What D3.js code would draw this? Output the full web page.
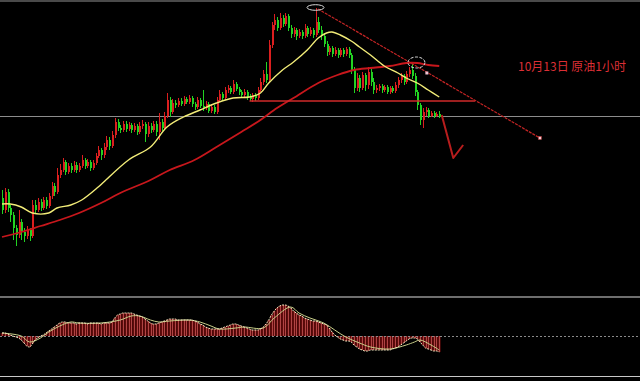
<!DOCTYPE html>
<html>
<head>
<meta charset="utf-8">
<script src="https://cdn.jsdelivr.net/npm/d3@7"></script>
<style>
  body { margin: 0; background: #000; }
  svg { display: block; }
</style>
</head>
<body>
<div id="chart"></div>
<script>
// crude oil, 1 hour candles
const opens = [
  50.02, 49.90, 50.08, 49.92, 49.85, 49.72, 49.65, 49.78, 49.68, 49.64,
  49.70, 49.64, 49.95, 49.90, 49.98, 49.92, 50.00, 49.94, 50.04, 50.14,
  50.08, 50.25, 50.30, 50.38, 50.28, 50.34, 50.30, 50.35, 50.30, 50.34,
  50.40, 50.34, 50.38, 50.32, 50.37, 50.44, 50.50, 50.45, 50.53, 50.60,
  50.54, 50.65, 50.78, 50.72, 50.70, 50.76, 50.71, 50.75, 50.70, 50.74,
  50.68, 50.74, 50.76, 50.66, 50.74, 50.70, 50.76, 50.68, 50.78, 50.72,
  50.84, 51.00, 50.88, 50.97, 50.95, 50.99, 50.96, 51.01, 50.98, 51.02,
  50.96, 50.93, 51.00, 50.94, 50.92, 50.96, 50.89, 50.93, 50.88, 51.00,
  51.06, 51.02, 51.10, 51.12, 51.08, 51.16, 51.11, 51.08, 51.05, 51.08,
  51.03, 51.01, 51.05, 51.02, 51.10, 51.18, 51.26, 51.20, 51.55, 51.75,
  51.80, 51.72, 51.82, 51.76, 51.84, 51.72, 51.66, 51.70, 51.64, 51.68,
  51.64, 51.72, 51.66, 51.70, 51.65, 51.78, 51.70, 51.64, 51.56, 51.48,
  51.52, 51.46, 51.50, 51.45, 51.50, 51.46, 51.51, 51.45, 51.30, 51.12,
  51.22, 51.12, 51.25, 51.15, 51.28, 51.18, 51.10, 51.12, 51.14, 51.10,
  51.13, 51.08, 51.12, 51.09, 51.15, 51.20, 51.24, 51.18, 51.26, 51.30,
  51.24, 51.08, 50.95, 50.80, 50.88, 50.90, 50.84, 50.87, 50.84, 50.86
];
const closes = [
  49.90, 50.08, 49.92, 49.85, 49.72, 49.65, 49.78, 49.68, 49.64, 49.70,
  49.64, 49.95, 49.90, 49.98, 49.92, 50.00, 49.94, 50.04, 50.14, 50.08,
  50.25, 50.30, 50.38, 50.28, 50.34, 50.30, 50.35, 50.30, 50.34, 50.40,
  50.34, 50.38, 50.32, 50.37, 50.44, 50.50, 50.45, 50.53, 50.60, 50.54,
  50.65, 50.78, 50.72, 50.70, 50.76, 50.71, 50.75, 50.70, 50.74, 50.68,
  50.74, 50.76, 50.66, 50.74, 50.70, 50.76, 50.68, 50.78, 50.72, 50.84,
  51.00, 50.88, 50.97, 50.95, 50.99, 50.96, 51.01, 50.98, 51.02, 50.96,
  50.93, 51.00, 50.94, 50.92, 50.96, 50.89, 50.93, 50.88, 51.00, 51.06,
  51.02, 51.10, 51.12, 51.08, 51.16, 51.11, 51.08, 51.05, 51.08, 51.03,
  51.01, 51.05, 51.02, 51.10, 51.18, 51.26, 51.20, 51.55, 51.75, 51.80,
  51.72, 51.82, 51.76, 51.84, 51.72, 51.66, 51.70, 51.64, 51.68, 51.64,
  51.72, 51.66, 51.70, 51.65, 51.78, 51.70, 51.64, 51.56, 51.48, 51.52,
  51.46, 51.50, 51.45, 51.50, 51.46, 51.51, 51.45, 51.30, 51.12, 51.22,
  51.12, 51.25, 51.15, 51.28, 51.18, 51.10, 51.12, 51.14, 51.10, 51.13,
  51.08, 51.12, 51.09, 51.15, 51.20, 51.24, 51.18, 51.26, 51.30, 51.24,
  51.08, 50.95, 50.80, 50.88, 50.90, 50.84, 50.87, 50.84, 50.86, 50.83
];
const highs = [
  50.10, 50.12, 50.11, 49.95, 49.88, 49.75, 49.90, 49.81, 49.72, 49.74,
  49.72, 50.00, 50.00, 50.02, 50.01, 50.03, 50.03, 50.07, 50.18, 50.17,
  50.32, 50.36, 50.42, 50.40, 50.37, 50.37, 50.39, 50.38, 50.37, 50.45,
  50.42, 50.41, 50.40, 50.40, 50.47, 50.54, 50.52, 50.57, 50.64, 50.63,
  50.69, 50.82, 50.81, 50.75, 50.79, 50.79, 50.78, 50.77, 50.77, 50.76,
  50.78, 50.80, 50.78, 50.78, 50.77, 50.79, 50.79, 50.87, 50.81, 50.88,
  51.07, 51.03, 51.01, 51.00, 51.02, 51.02, 51.04, 51.03, 51.05, 51.04,
  50.98, 51.03, 51.02, 51.10, 50.99, 50.98, 50.96, 50.95, 51.03, 51.10,
  51.08, 51.13, 51.15, 51.14, 51.20, 51.18, 51.13, 51.10, 51.11, 51.10,
  51.06, 51.07, 51.07, 51.13, 51.22, 51.30, 51.38, 51.60, 51.78, 51.86,
  51.83, 51.87, 51.85, 51.87, 51.86, 51.75, 51.73, 51.72, 51.71, 51.70,
  51.76, 51.74, 51.73, 51.72, 51.92, 51.83, 51.74, 51.67, 51.59, 51.54,
  51.54, 51.53, 51.52, 51.52, 51.52, 51.53, 51.53, 51.47, 51.33, 51.27,
  51.25, 51.28, 51.27, 51.33, 51.31, 51.22, 51.15, 51.16, 51.16, 51.15,
  51.15, 51.14, 51.14, 51.18, 51.23, 51.27, 51.26, 51.29, 51.33, 51.36,
  51.27, 51.10, 50.97, 50.92, 50.93, 50.92, 50.89, 50.89, 50.88, 50.89
];
const lows = [
  49.86, 49.87, 49.88, 49.78, 49.60, 49.54, 49.62, 49.60, 49.58, 49.61,
  49.59, 49.62, 49.87, 49.88, 49.89, 49.90, 49.91, 49.92, 50.01, 50.04,
  50.06, 50.22, 50.28, 50.25, 50.26, 50.27, 50.28, 50.27, 50.28, 50.32,
  50.31, 50.32, 50.29, 50.30, 50.35, 50.42, 50.40, 50.42, 50.50, 50.50,
  50.52, 50.62, 50.69, 50.67, 50.68, 50.68, 50.69, 50.67, 50.68, 50.65,
  50.66, 50.71, 50.58, 50.63, 50.67, 50.68, 50.64, 50.60, 50.69, 50.70,
  50.82, 50.83, 50.86, 50.92, 50.93, 50.94, 50.94, 50.96, 50.96, 50.93,
  50.90, 50.91, 50.92, 50.89, 50.90, 50.87, 50.87, 50.86, 50.86, 50.98,
  51.00, 51.00, 51.07, 51.06, 51.06, 51.09, 51.05, 51.02, 51.03, 51.00,
  50.99, 50.98, 50.99, 51.00, 51.08, 51.15, 51.17, 51.18, 51.52, 51.70,
  51.69, 51.70, 51.73, 51.74, 51.69, 51.62, 51.63, 51.60, 51.62, 51.61,
  51.62, 51.63, 51.64, 51.62, 51.63, 51.67, 51.60, 51.53, 51.44, 51.45,
  51.43, 51.44, 51.42, 51.43, 51.43, 51.44, 51.42, 51.26, 51.07, 51.09,
  51.08, 51.10, 51.09, 51.11, 51.14, 51.06, 51.07, 51.09, 51.07, 51.08,
  51.06, 51.06, 51.07, 51.07, 51.12, 51.17, 51.15, 51.16, 51.23, 51.21,
  51.04, 50.90, 50.75, 50.72, 50.84, 50.82, 50.83, 50.82, 50.83, 50.82
];

// moving averages, sampled at candle indexes
const maFastIdx = [0, 3, 7, 11, 17, 20, 25, 29, 35, 37, 46, 54, 60, 66, 72, 78, 84, 90, 94, 97,
  102, 106, 111, 115, 118, 120, 123, 127, 130, 134, 139, 144, 147, 151, 155, 159];
const maFast = [49.96, 49.96, 49.93, 49.87, 49.87, 49.92, 49.95, 50.00, 50.13, 50.18, 50.40, 50.53,
  50.73, 50.83, 50.90, 50.97, 51.02, 51.03, 51.07, 51.17, 51.30, 51.38, 51.50, 51.62, 51.67, 51.68,
  51.65, 51.59, 51.53, 51.45, 51.34, 51.27, 51.22, 51.17, 51.10, 51.03];
const maSlowIdx = [0, 7, 14, 21, 28, 36, 43, 54, 61, 70, 78, 87, 94, 100, 106, 115, 122, 128,
  134, 141, 147, 151, 155, 159];
const maSlow = [49.63, 49.68, 49.74, 49.80, 49.87, 49.97, 50.07, 50.20, 50.30, 50.40, 50.53, 50.68,
  50.80, 50.92, 51.02, 51.17, 51.25, 51.30, 51.32, 51.34, 51.37, 51.37, 51.35, 51.34];

// MACD histogram, one per candle
const macd = [
  0.03, 0.03, 0.02, 0.01, 0.00, -0.01, -0.02, -0.04, -0.07, -0.10,
  -0.11, -0.08, -0.04, -0.02, 0.00, 0.01, 0.03, 0.05, 0.07, 0.09,
  0.11, 0.13, 0.14, 0.14, 0.13, 0.13, 0.13, 0.12, 0.13, 0.13,
  0.13, 0.12, 0.13, 0.13, 0.13, 0.13, 0.12, 0.13, 0.13, 0.13,
  0.14, 0.18, 0.21, 0.22, 0.23, 0.23, 0.23, 0.23, 0.22, 0.21,
  0.20, 0.19, 0.17, 0.15, 0.13, 0.12, 0.12, 0.13, 0.14, 0.15,
  0.16, 0.17, 0.17, 0.17, 0.16, 0.16, 0.16, 0.16, 0.16, 0.16,
  0.15, 0.14, 0.12, 0.11, 0.09, 0.08, 0.07, 0.07, 0.07, 0.07,
  0.08, 0.09, 0.10, 0.11, 0.12, 0.12, 0.11, 0.10, 0.09, 0.08,
  0.07, 0.06, 0.06, 0.06, 0.07, 0.09, 0.12, 0.16, 0.21, 0.25,
  0.28, 0.30, 0.31, 0.31, 0.30, 0.28, 0.25, 0.23, 0.21, 0.20,
  0.18, 0.17, 0.16, 0.15, 0.15, 0.14, 0.13, 0.12, 0.11, 0.08,
  0.04, 0.01, -0.01, -0.03, -0.04, -0.05, -0.05, -0.06, -0.09, -0.11,
  -0.13, -0.14, -0.15, -0.15, -0.14, -0.14, -0.14, -0.14, -0.14, -0.14,
  -0.14, -0.14, -0.13, -0.12, -0.11, -0.09, -0.07, -0.05, -0.03, -0.02,
  -0.02, -0.03, -0.06, -0.09, -0.12, -0.13, -0.14, -0.15, -0.15, -0.16
];
const signalIdx = [0, 7, 10, 14, 17, 21, 25, 28, 36, 43, 47, 50, 54, 57, 61, 68, 72, 76, 79, 85,
  88, 95, 99, 105, 108, 112, 117, 121, 125, 130, 134, 141, 147, 150, 152, 156, 159];
const signal = [0.03, 0.00, -0.06, -0.02, 0.04, 0.10, 0.14, 0.13, 0.13, 0.16, 0.20, 0.20, 0.16,
  0.14, 0.15, 0.16, 0.14, 0.10, 0.07, 0.08, 0.09, 0.08, 0.18, 0.29, 0.23, 0.18, 0.13, 0.06, -0.01,
  -0.07, -0.11, -0.13, -0.09, -0.06, -0.04, -0.09, -0.14];

// hand drawn annotations, in [candle index, price]
const supportPrice = 50.84;
const resistanceLine = [[90, 50.99], [172, 50.99]];
const trendLine = [[114.9, 51.91], [195.6, 50.62]];
const forecastPath = [[159.9, 50.85], [164.1, 50.42], [167.7, 50.55]];
const topMarks = [[114, 51.925], [150.7, 51.375]];
const pinkDot = [154.5, 51.27];
const caption = '10月13日 原油1小时';

class CandleChart {

  constructor(_config) {
    this.config = {
      parentElement: _config.parentElement,
      containerWidth: 640,
      containerHeight: 381,
      upColor: '#dc1f1f',
      downColor: '#22d322'
    };
    this.initVis();
  }

  initVis() {
    let vis = this;

    vis.svg = d3.select(vis.config.parentElement).append('svg')
      .attr('width', vis.config.containerWidth)
      .attr('height', vis.config.containerHeight)
      .style('background', '#000');

    vis.xScale = d3.scaleLinear()
      .domain([0, 232])
      .range([2, 640]);

    vis.yScale = d3.scaleLinear()
      .domain([49, 52])
      .range([300, 0]);

    vis.macdScale = d3.scaleLinear()
      .domain([-0.40, 0.37])
      .range([376, 299]);

    vis.renderVis();
  }

  renderVis() {
    let vis = this;
    const W = vis.config.containerWidth;

    // frame lines
    vis.svg.append('rect').attr('x', 0).attr('y', 0).attr('width', W).attr('height', 2).attr('fill', '#4a4a4a');
    vis.svg.append('rect').attr('x', 0).attr('y', 296).attr('width', W).attr('height', 2).attr('fill', '#6e6e6e');
    vis.svg.append('rect').attr('x', 0).attr('y', 376).attr('width', W).attr('height', 1).attr('fill', '#c8c8c8');

    // current price level
    vis.svg.append('line')
      .attr('x1', 0).attr('x2', W)
      .attr('y1', Math.round(vis.yScale(supportPrice)) + 0.5)
      .attr('y2', Math.round(vis.yScale(supportPrice)) + 0.5)
      .attr('stroke', '#8c8c8c')
      .attr('stroke-width', 1);

    // candles
    const candles = closes.map((c, i) => ({ i, o: opens[i], c, h: highs[i], l: lows[i] }));
    const cg = vis.svg.append('g');

    cg.selectAll('.wick')
      .data(candles)
      .enter()
      .append('line')
      .attr('class', 'wick')
      .attr('x1', d => Math.round(vis.xScale(d.i)) + 0.5)
      .attr('x2', d => Math.round(vis.xScale(d.i)) + 0.5)
      .attr('y1', d => vis.yScale(d.h))
      .attr('y2', d => vis.yScale(d.l))
      .attr('stroke', d => d.c >= d.o ? vis.config.upColor : vis.config.downColor)
      .attr('stroke-width', 1);

    cg.selectAll('.body')
      .data(candles)
      .enter()
      .append('rect')
      .attr('class', 'body')
      .attr('x', d => Math.round(vis.xScale(d.i)))
      .attr('width', 2)
      .attr('y', d => vis.yScale(Math.max(d.o, d.c)))
      .attr('height', d => Math.max(1, Math.abs(vis.yScale(d.o) - vis.yScale(d.c))))
      .attr('fill', d => d.c >= d.o ? vis.config.upColor : vis.config.downColor);

    // moving averages
    const line = d3.line()
      .x(d => vis.xScale(d[0]))
      .y(d => vis.yScale(d[1]))
      .curve(d3.curveCatmullRom);

    vis.svg.append('path')
      .datum(maSlowIdx.map((i, k) => [i, maSlow[k]]))
      .attr('d', line)
      .attr('fill', 'none')
      .attr('stroke', '#c8171c')
      .attr('stroke-width', 1.8);

    vis.svg.append('path')
      .datum(maFastIdx.map((i, k) => [i, maFast[k]]))
      .attr('d', line)
      .attr('fill', 'none')
      .attr('stroke', '#f2ec78')
      .attr('stroke-width', 1.4);

    // resistance line
    vis.svg.append('line')
      .attr('x1', vis.xScale(resistanceLine[0][0]))
      .attr('x2', vis.xScale(resistanceLine[1][0]))
      .attr('y1', vis.yScale(resistanceLine[0][1]))
      .attr('y2', vis.yScale(resistanceLine[1][1]))
      .attr('stroke', '#d02a2a')
      .attr('stroke-width', 1.5);

    // down trend line
    vis.svg.append('line')
      .attr('x1', vis.xScale(trendLine[0][0]))
      .attr('x2', vis.xScale(trendLine[1][0]))
      .attr('y1', vis.yScale(trendLine[0][1]))
      .attr('y2', vis.yScale(trendLine[1][1]))
      .attr('stroke', '#c42424')
      .attr('stroke-width', 1.2)
      .attr('stroke-dasharray', '3,1');

    vis.svg.append('rect')
      .attr('x', vis.xScale(trendLine[1][0]) - 1.5)
      .attr('y', vis.yScale(trendLine[1][1]) - 1.5)
      .attr('width', 3).attr('height', 3)
      .attr('fill', '#f4c8d0')
      .attr('stroke', '#c03030')
      .attr('stroke-width', 0.5);

    vis.svg.append('rect')
      .attr('x', vis.xScale(pinkDot[0]) - 1.5)
      .attr('y', vis.yScale(pinkDot[1]) - 1.5)
      .attr('width', 3).attr('height', 3)
      .attr('fill', '#f0c4d4');

    // circled highs
    vis.svg.append('ellipse')
      .attr('cx', vis.xScale(topMarks[0][0]))
      .attr('cy', vis.yScale(topMarks[0][1]))
      .attr('rx', 8.5).attr('ry', 2.8)
      .attr('fill', 'none')
      .attr('stroke', '#d8d8d8')
      .attr('stroke-width', 1);

    vis.svg.append('ellipse')
      .attr('cx', vis.xScale(topMarks[1][0]))
      .attr('cy', vis.yScale(topMarks[1][1]))
      .attr('rx', 8.5).attr('ry', 5.5)
      .attr('fill', 'none')
      .attr('stroke', '#e0e0e0')
      .attr('stroke-width', 1)
      .attr('stroke-dasharray', '3,1.5');

    // forecast arrow
    vis.svg.append('path')
      .datum(forecastPath)
      .attr('d', d3.line().x(d => vis.xScale(d[0])).y(d => vis.yScale(d[1])))
      .attr('fill', 'none')
      .attr('stroke', '#b81d1d')
      .attr('stroke-width', 2)
      .attr('stroke-linejoin', 'round');

    vis.svg.append('text')
      .attr('x', 518)
      .attr('y', 71)
      .attr('fill', '#dc2f35')
      .attr('font-family', '"Noto Sans CJK SC", sans-serif')
      .attr('font-size', 12)
      .text(caption);

    // MACD panel
    const zeroY = vis.macdScale(0);
    const mg = vis.svg.append('g');

    mg.selectAll('.hist-bg')
      .data(macd)
      .enter()
      .append('rect')
      .attr('class', 'hist-bg')
      .attr('x', (d, i) => vis.xScale(i) - 1.4)
      .attr('width', 2.8)
      .attr('y', d => Math.min(zeroY, vis.macdScale(d)))
      .attr('height', d => Math.abs(vis.macdScale(d) - zeroY))
      .attr('fill', '#5e0b0b');

    mg.selectAll('.hist')
      .data(macd)
      .enter()
      .append('line')
      .attr('class', 'hist')
      .attr('x1', (d, i) => Math.round(vis.xScale(i)) + 0.5)
      .attr('x2', (d, i) => Math.round(vis.xScale(i)) + 0.5)
      .attr('y1', zeroY)
      .attr('y2', d => vis.macdScale(d))
      .attr('stroke', '#b04444')
      .attr('stroke-width', 1);

    mg.append('line')
      .attr('x1', 0).attr('x2', W)
      .attr('y1', Math.round(zeroY) + 0.5).attr('y2', Math.round(zeroY) + 0.5)
      .attr('stroke', '#8a8a8a')
      .attr('stroke-dasharray', '2,2');

    mg.append('path')
      .datum(signalIdx.map((i, k) => [i, signal[k]]))
      .attr('d', d3.line().x(d => vis.xScale(d[0])).y(d => vis.macdScale(d[1])).curve(d3.curveCatmullRom))
      .attr('fill', 'none')
      .attr('stroke', '#c9cf8a')
      .attr('stroke-width', 1);

    mg.append('path')
      .datum(macd)
      .attr('d', d3.line().x((d, i) => vis.xScale(i)).y(d => vis.macdScale(d)).curve(d3.curveMonotoneX))
      .attr('fill', 'none')
      .attr('stroke', '#f3e9c0')
      .attr('stroke-width', 1)
      .attr('stroke-dasharray', '2,1');
  }
}

const chart = new CandleChart({ parentElement: '#chart' });
</script>
</body>
</html>
